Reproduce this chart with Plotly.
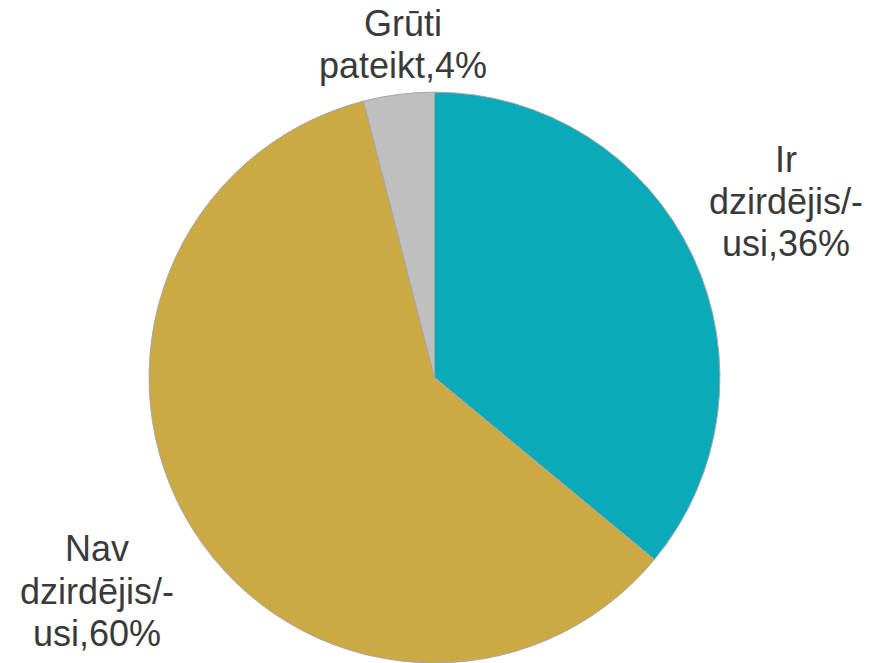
import plotly.graph_objects as go

# Data
categories = ["Ir dzirdējis/-usi", "Nav dzirdējis/-usi", "Grūti pateikt"]
values = [36, 60, 4]
label_lines = [
    ["Ir", "dzirdējis/-", "usi,36%"],
    ["Nav", "dzirdējis/-", "usi,60%"],
    ["Grūti", "pateikt,4%"],
]
colors = ["#0AAABA", "#CBAA44", "#BFBFBF"]

W, H = 869, 663

fig = go.Figure(go.Pie(
    labels=categories,
    values=values,
    sort=False,
    direction="clockwise",
    rotation=0,
    textinfo="none",
    hoverinfo="label+percent",
    marker=dict(colors=colors, line=dict(color="#A6A6A6", width=1)),
    domain=dict(x=[0.1686, 0.8314], y=[0.0, 0.861]),
    showlegend=False,
))

# label placement (pixel centre x, first baseline y, line step)
label_pos = [(786, 172, 42), (97, 561, 42.5), (403, 36, 42)]
font_size = 36
annotations = []
for lines, (cx, base, step) in zip(label_lines, label_pos):
    for i, line in enumerate(lines):
        ymid = base + i * step - 12.5
        annotations.append(dict(
            text=line, x=cx / W, y=1 - ymid / H, xref="paper", yref="paper",
            xanchor="center", yanchor="middle", showarrow=False,
            font=dict(family="Liberation Sans, Arial, sans-serif", size=font_size, color="#3A3A3A"),
        ))

fig.update_layout(
    width=W, height=H,
    margin=dict(l=0, r=0, t=0, b=0),
    paper_bgcolor="white", plot_bgcolor="white",
    annotations=annotations,
)

fig.write_html(
    "out.html",
    config={"displayModeBar": False},
    post_script="document.body.style.margin='0';document.body.style.overflow='hidden';",
)
